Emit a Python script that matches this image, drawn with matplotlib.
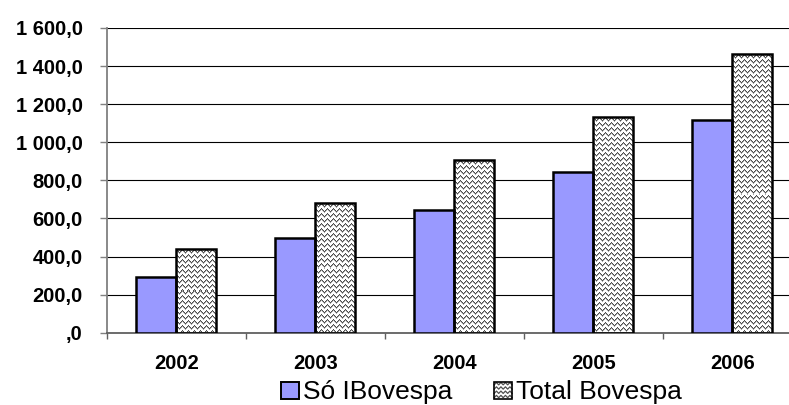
import numpy as np
import matplotlib
matplotlib.use("Agg")
import matplotlib.pyplot as plt
from matplotlib.patches import Rectangle, Patch
from matplotlib.lines import Line2D
from matplotlib.legend_handler import HandlerBase
from matplotlib.ticker import FuncFormatter, FixedLocator

# ---- data ----
years = ["2002", "2003", "2004", "2005", "2006"]
so_ibovespa = [295, 497, 645, 846, 1118]
total_bovespa = [437, 680, 908, 1134, 1462]
series_names = ["Só IBovespa", "Total Bovespa"]

plt.rcParams['font.family'] = ['Liberation Sans', 'DejaVu Sans']

W, H = 789, 405
fig = plt.figure(figsize=(W / 100, H / 100), dpi=100)
ax_left, ax_right = 106.7, 789.0
ax_bottom, ax_top = 332.7, 28.0
ax = fig.add_axes([ax_left / W, (H - ax_bottom) / H, (ax_right - ax_left) / W, (ax_bottom - ax_top) / H])

cat_px = 139.0
xmax = -0.5 + (ax_right - ax_left) / cat_px
ymax = 1600
bw = 40.0 / cat_px

x = np.arange(len(years))

# blue bars
ax.bar(x - bw / 2, so_ibovespa, width=bw, color='#9999FF', edgecolor='black',
       linewidth=1.8, zorder=3)

px_per_unit_y = (ax_bottom - ax_top) / ymax


def zigzag_texture(hpx, wpx):
    arr = np.ones((hpx, wpx, 3))
    prof = [0, 1, 2, 3, 2, 1]
    dark = np.array([0.3, 0.3, 0.3])
    light = np.array([0.66, 0.66, 0.66])
    for r in range(0, hpx + 6, 5):
        for c in range(wpx):
            yy = r + prof[c % 6]
            if 0 <= yy < hpx:
                arr[yy, c] = dark
            if 0 <= yy + 1 < hpx:
                arr[yy + 1, c] = light
    return arr


edges = ax.bar(x + bw / 2, total_bovespa, width=bw, facecolor='none', edgecolor='black',
               linewidth=1.8, zorder=3)
for rect, val in zip(edges.patches, total_bovespa):
    hpx = max(1, int(round(val * px_per_unit_y)))
    wpx = int(round(bw * cat_px))
    tex = zigzag_texture(hpx, wpx)
    x0 = rect.get_x()
    im = ax.imshow(tex, extent=(x0, x0 + bw, 0, val), origin='upper', aspect='auto',
                   interpolation='nearest', zorder=2)
    im.set_clip_path(rect)

ax.set_xlim(-0.5, xmax)
ax.set_ylim(0, ymax)

# grid & spines
ax.set_axisbelow(True)
ax.yaxis.grid(True, color='black', linewidth=0.8)
ax.spines['top'].set_visible(False)
ax.spines['right'].set_visible(False)
ax.spines['left'].set_color('#808080')
ax.spines['left'].set_linewidth(1.3)
ax.spines['bottom'].set_color('#606060')
ax.spines['bottom'].set_linewidth(1.3)


def fmt(v, pos):
    if v == 0:
        return ",0"
    s = f"{v:,.1f}"
    return s.replace(",", " ").replace(".", ",")


ax.yaxis.set_major_locator(FixedLocator(np.arange(0, ymax + 1, 200)))
ax.yaxis.set_major_formatter(FuncFormatter(fmt))
ax.tick_params(axis='y', direction='out', length=5, width=1, color='#808080', pad=12.3,
               labelsize=14.5)
for t in ax.get_yticklabels():
    t.set_fontweight('bold')

# x axis: ticks at category boundaries, labels at centers
ax.xaxis.set_major_locator(FixedLocator(np.arange(-0.5, len(years), 1.0)))
ax.xaxis.set_major_formatter(FuncFormatter(lambda v, p: ""))
ax.xaxis.set_minor_locator(FixedLocator(x))
ax.set_xticks(x, minor=True)
ax.set_xticklabels(years, minor=True, fontweight='bold', fontsize=14.5)
ax.tick_params(axis='x', which='major', direction='out', length=4.5, width=1, color='#606060')
ax.tick_params(axis='x', which='minor', length=0, pad=15.5)


class HandlerZigzag(HandlerBase):
    def create_artists(self, legend, orig_handle, xdescent, ydescent, width, height,
                       fontsize, trans):
        x0, y0 = -xdescent, -ydescent
        arts = [Rectangle((x0, y0), width, height, facecolor='white', edgecolor='none',
                          transform=trans)]
        nrows = 4
        period = width / 4.0
        amp = height / nrows * 0.55
        for r in range(nrows):
            base = y0 + height * (r + 0.25) / nrows
            xs = np.arange(0, width + 0.001, period / 2.0)
            ys = [base + (amp if i % 2 else 0) for i in range(len(xs))]
            arts.append(Line2D(x0 + xs, ys, color='#505050', linewidth=0.9, transform=trans))
        arts.append(Rectangle((x0, y0), width, height, facecolor='none', edgecolor='black',
                              linewidth=1.2, transform=trans))
        return arts


h_blue = Patch(facecolor='#9999FF', edgecolor='black', linewidth=1.4)
h_tot = Patch(facecolor='white', edgecolor='black')
fig.legend([h_blue, h_tot], series_names, loc='lower left',
           bbox_to_anchor=(280.7 / W, 0.5 / H), ncol=2, frameon=False,
           fontsize=19, handlelength=0.68, handleheight=0.62, handletextpad=0.15,
           columnspacing=1.6, borderpad=0, borderaxespad=0,
           handler_map={h_tot: HandlerZigzag()})

fig.savefig("out.png", dpi=100)
